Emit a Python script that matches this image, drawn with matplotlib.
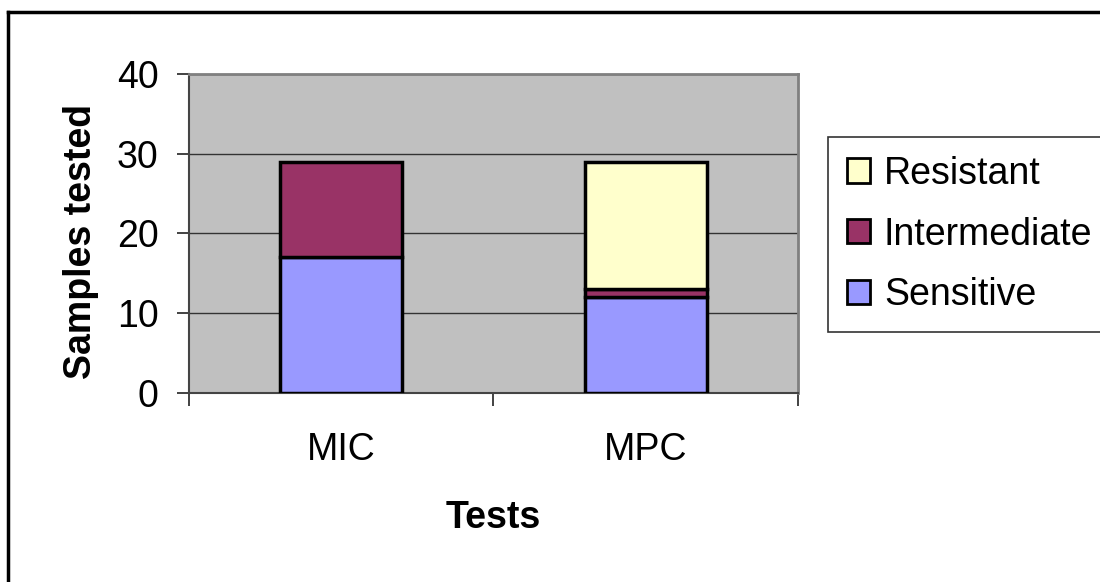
import numpy as np
import matplotlib.pyplot as plt
from matplotlib.lines import Line2D

plt.rcParams['font.family'] = ['Liberation Sans', 'DejaVu Sans']

tests = ['MIC', 'MPC']
sensitive = [17, 12]
intermediate = [12, 1]
resistant = [0, 16]

fig = plt.figure(figsize=(11, 5.82), dpi=100)
ax = fig.add_axes([0.1718, 0.3247, 0.5536, 0.5482])
ax.set_facecolor('#C0C0C0')

x = np.arange(len(tests))
w = 0.40
kw = dict(width=w, edgecolor='black', linewidth=2.5, zorder=3)
b1 = ax.bar(x, sensitive, color='#9999FF', label='Sensitive', **kw)
b2 = ax.bar(x, intermediate, bottom=sensitive, color='#993366', label='Intermediate', **kw)
bottom2 = np.array(sensitive) + np.array(intermediate)
r = [v if v > 0 else np.nan for v in resistant]
b3 = ax.bar(x, r, bottom=bottom2, color='#FFFFCC', label='Resistant', **kw)

ax.set_xlim(-0.5, 1.5)
ax.set_ylim(0, 40)
ax.set_yticks([0, 10, 20, 30, 40])
ax.yaxis.grid(True, color='#333333', linewidth=1, zorder=0)
ax.set_axisbelow(True)

# category ticks on the boundaries, names centred under the bars
ax.set_xticks([-0.5, 0.5, 1.5])
ax.set_xticklabels([])
ax.set_xticks(x, minor=True)
ax.set_xticklabels(tests, minor=True)
ax.tick_params(axis='x', which='major', direction='out', length=9, width=1.2, color='#222222')
ax.tick_params(axis='x', which='minor', length=0, pad=28, labelsize=27)
ax.tick_params(axis='y', direction='out', length=9, width=1.2, labelsize=27, pad=13, color='#222222')

for s in ['top', 'right']:
    ax.spines[s].set_color('#808080')
    ax.spines[s].set_linewidth(2)
for s in ['left', 'bottom']:
    ax.spines[s].set_color('#444444')
    ax.spines[s].set_linewidth(1.5)

ax.set_xlabel('Tests', fontsize=27, fontweight='bold')
ax.xaxis.set_label_coords(0.5, -0.335)
ax.set_ylabel('Samples tested', fontsize=27, fontweight='bold')
ax.yaxis.set_label_coords(-0.148, 0.476)

leg = fig.legend(handles=[b3, b2, b1], labels=['Resistant', 'Intermediate', 'Sensitive'],
                 loc='upper left', bbox_to_anchor=(828 / 1100, 1 - 137 / 582),
                 fontsize=27, frameon=True, fancybox=False, edgecolor='black',
                 handlelength=0.62, handleheight=0.62, handletextpad=0.37,
                 labelspacing=0.66, borderpad=0.5, borderaxespad=0)
leg.get_frame().set_linewidth(1.2)
for h in leg.legend_handles:
    h.set_linewidth(2)

# chart area outline (left and top edges)
fig.add_artist(Line2D([8 / 1100, 8 / 1100], [0, 1 - 12 / 582], color='black', linewidth=2.5))
fig.add_artist(Line2D([8 / 1100, 1], [1 - 12 / 582, 1 - 12 / 582], color='black', linewidth=2.5))

fig.savefig('out.png', dpi=100)
